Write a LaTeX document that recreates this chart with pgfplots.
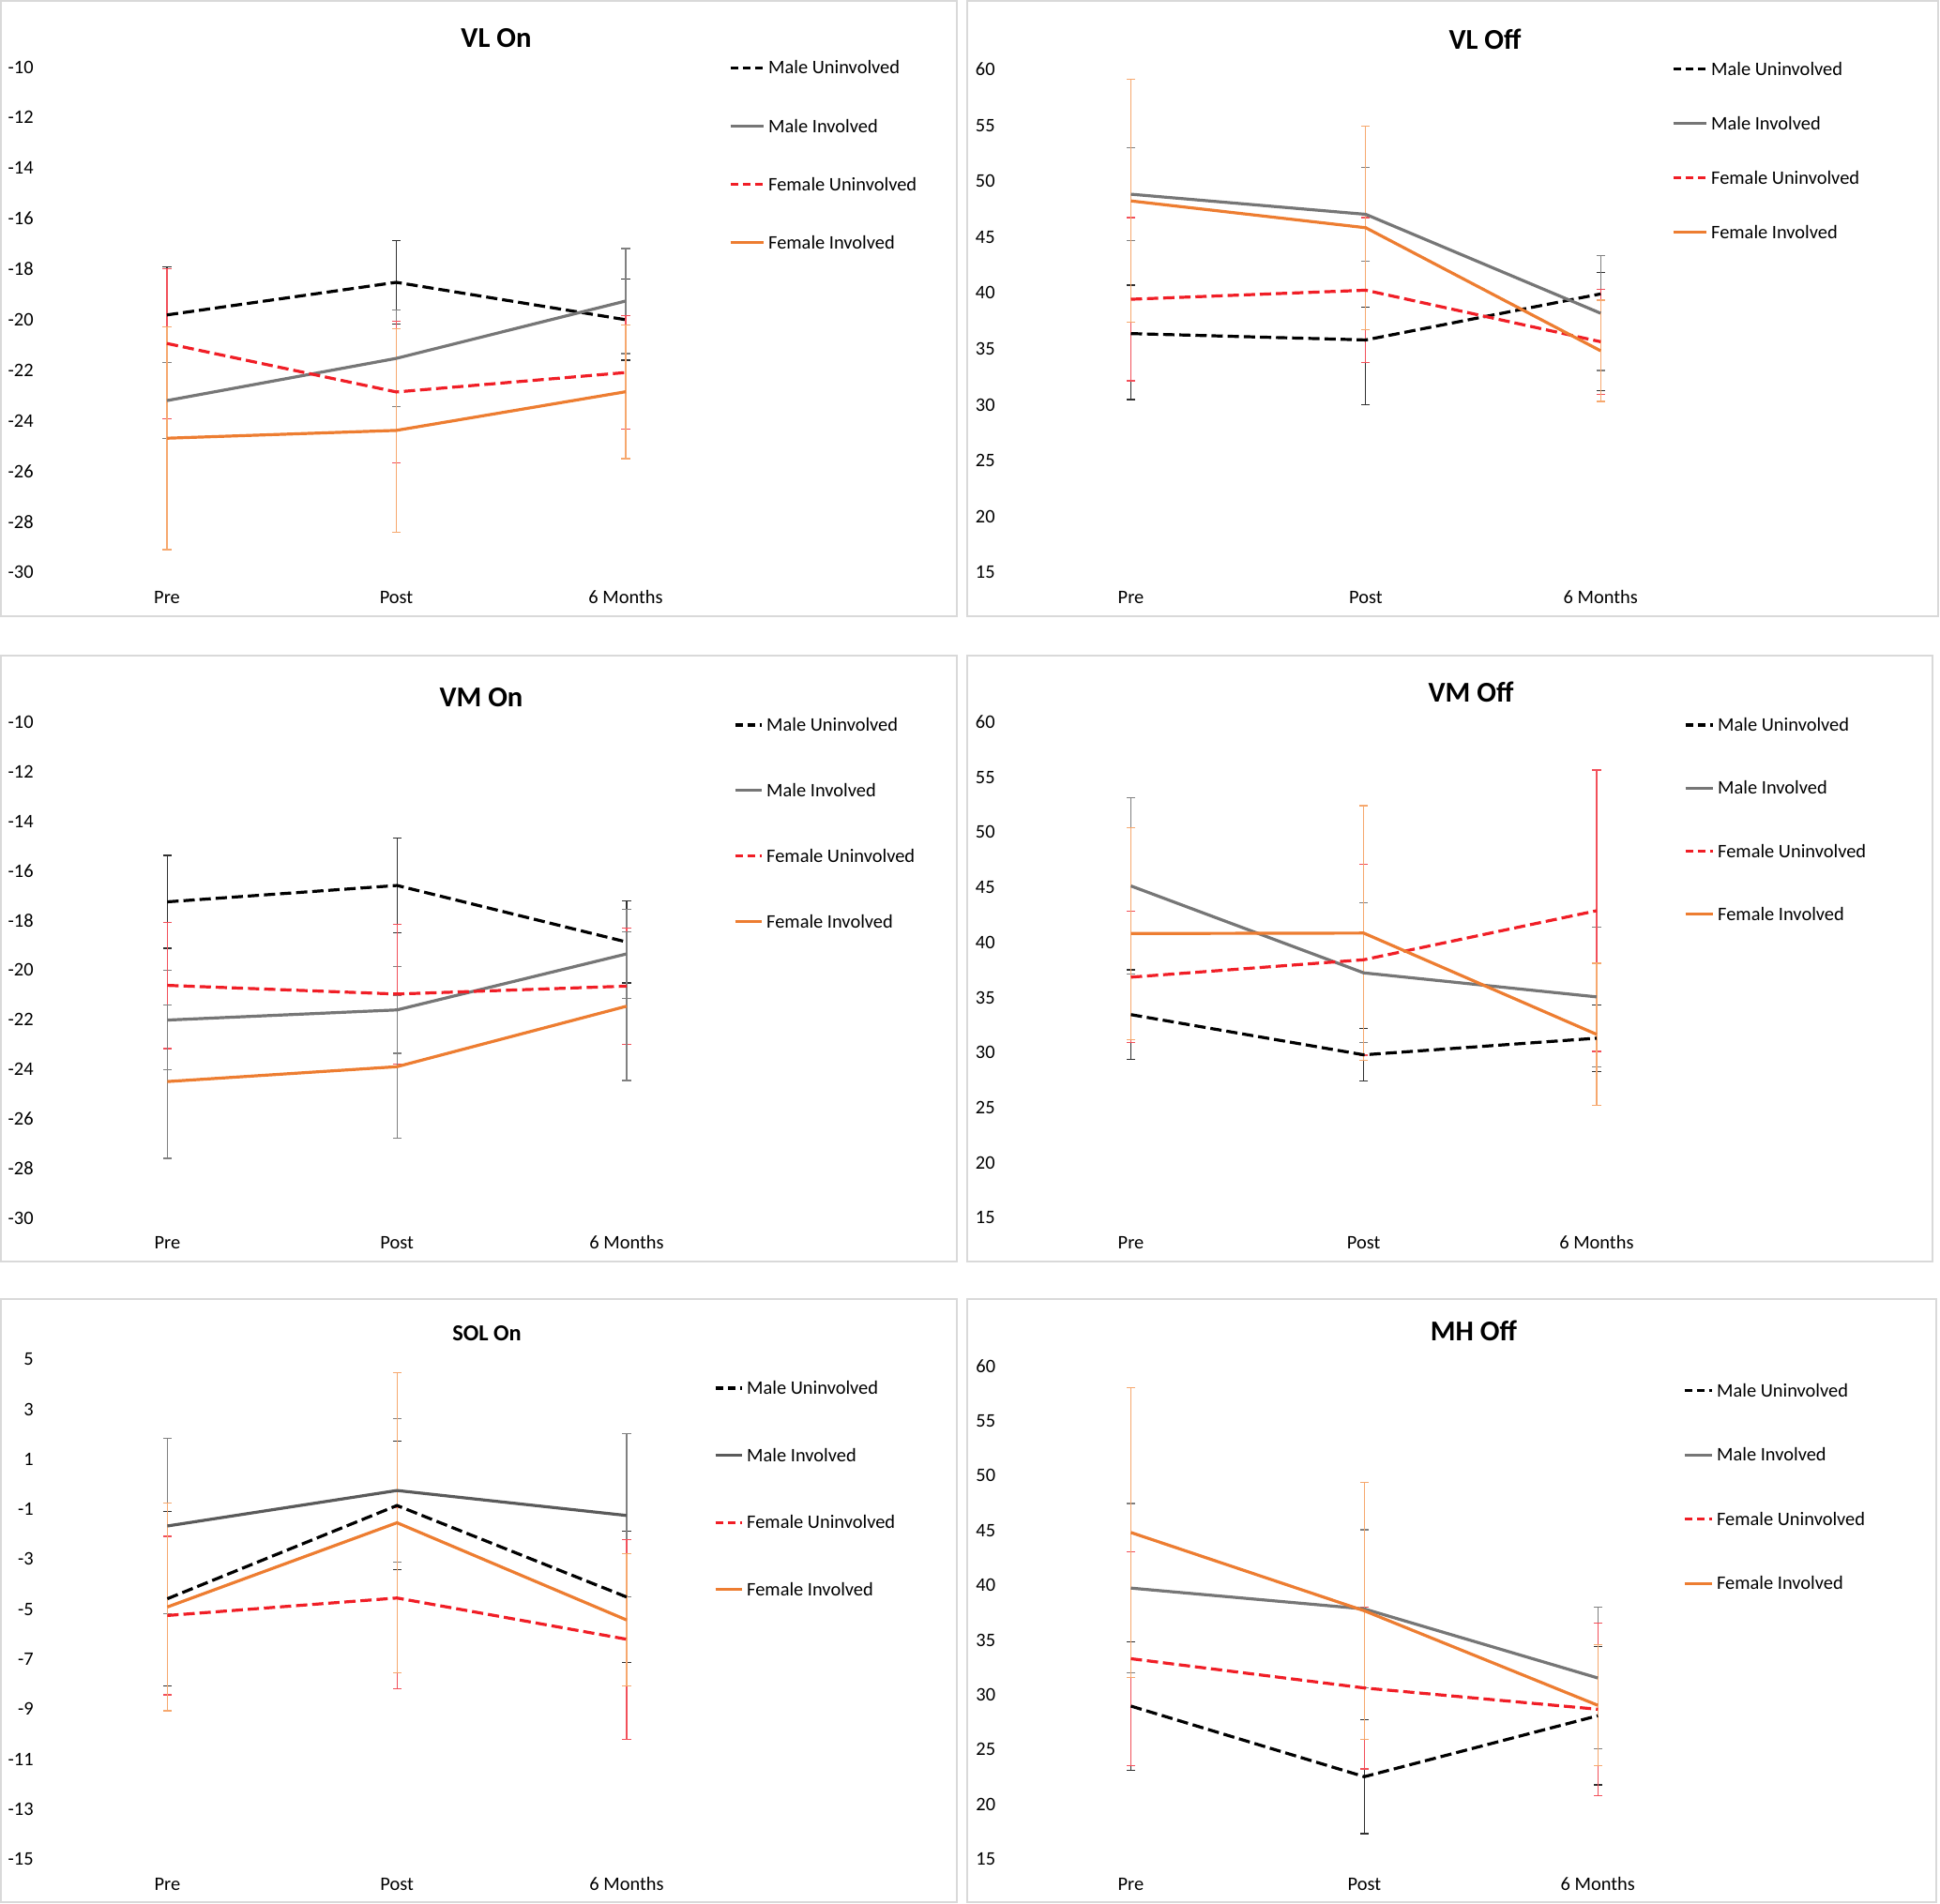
\documentclass[border=0pt]{standalone}
\usepackage{pgfplots}
\pgfplotsset{compat=1.18}
\usepackage{pgfplotstable}
\usepackage{fontspec}
\setmainfont{Carlito}

\definecolor{cgray}{HTML}{767676}
\definecolor{cgrayd}{HTML}{5A5A5A}
\definecolor{cred}{HTML}{F01E26}
\definecolor{corange}{HTML}{ED7D31}
\definecolor{eblack}{HTML}{303030}
\definecolor{egray}{HTML}{808080}
\definecolor{ered}{HTML}{F2505A}
\definecolor{eorange}{HTML}{F6A86E}
\definecolor{framegray}{HTML}{D9D9D9}

% columns: x, mean / plus / minus for Male Uninvolved (mu), Male Involved (mi),
% Female Uninvolved (fu), Female Involved (fi)
\pgfplotstableread{
x mu mup mum mi mip mim fu fup fum fi fip fim
0 -19.81 1.89 1.89 -23.20 1.50 1.50 -20.94 2.97 2.97 -24.69 4.41 4.41
1 -18.52 1.66 1.66 -21.53 1.92 1.92 -22.86 2.80 2.80 -24.38 4.02 4.02
2 -20.00 1.60 1.60 -19.26 2.08 2.08 -22.09 2.25 2.25 -22.85 2.65 2.65
}\tVLon
\pgfplotstableread{
x mu mup mum mi mip mim fu fup fum fi fip fim
0 36.37 4.33 5.91 48.84 4.15 4.15 39.44 7.30 7.30 48.24 10.86 10.86
1 35.80 2.90 5.80 47.04 4.20 4.20 40.25 6.50 6.50 45.84 9.10 9.10
2 39.92 1.90 8.67 38.19 5.13 5.13 35.64 4.70 4.70 34.83 4.53 4.53
}\tVLoff
\pgfplotstableread{
x mu mup mum mi mip mim fu fup fum fi fip fim
0 -17.25 1.87 1.87 -22.02 2.00 2.00 -20.62 2.55 2.55 -24.50 3.10 3.10
1 -16.59 1.91 1.91 -21.61 1.75 1.75 -20.97 2.82 2.82 -23.90 2.87 2.87
2 -18.87 1.65 1.65 -19.35 1.80 1.80 -20.65 2.34 2.34 -21.46 3.00 3.00
}\tVMon
\pgfplotstableread{
x mu mup mum mi mip mim fu fup fum fi fip fim
0 33.45 4.07 4.07 45.13 8.03 8.03 36.85 5.96 5.96 40.81 9.61 9.61
1 29.80 2.39 2.39 37.24 6.34 6.34 38.43 8.66 8.66 40.85 11.57 11.57
2 31.31 3.00 3.00 35.06 6.35 6.35 42.88 12.77 12.77 31.66 6.45 6.45
}\tVMoff
\pgfplotstableread{
x mu mup mum mi mip mim fu fup fum fi fip fim
0 -4.58 3.50 3.50 -1.67 3.50 3.50 -5.25 3.17 3.17 -4.91 4.15 4.15
1 -0.85 2.56 2.56 -0.25 2.86 2.86 -4.55 3.63 3.63 -1.54 6.00 6.00
2 -4.51 2.62 2.62 -1.25 3.26 3.26 -6.20 4.00 4.00 -5.43 2.65 2.65
}\tSOLon
\pgfplotstableread{
x mu mup mum mi mip mim fu fup fum fi fip fim
0 28.97 5.87 5.87 39.73 7.71 7.71 33.29 9.75 9.75 44.80 13.20 13.20
1 22.53 5.20 5.20 37.83 7.22 7.22 30.62 7.38 7.38 37.66 11.70 11.70
2 28.09 6.30 6.30 31.53 6.47 6.47 28.68 7.85 7.85 29.04 5.53 5.53
}\tMHoff

\pgfplotsset{
  leglen/.initial=17.5pt,
  panel/.style={
    scale only axis, clip=false, anchor=south west,
    xmin=-0.5, xmax=2.5, xtick={0,1,2}, xticklabels={Pre,Post,6 Months},
    axis line style={draw=none}, major tick length=0pt, tick style={draw=none},
    /pgf/number format/assume math mode=true,
    ticklabel style={font=\fontsize{10.2}{12}\selectfont, inner sep=0pt, text=black},
    xticklabel style={anchor=base, yshift=-16.5pt},
    yticklabel style={anchor=east},
    legend style={draw=none, fill=none, inner sep=0pt, outer sep=0pt, anchor=north west,
      font=\fontsize{10.2}{12}\selectfont,
      nodes={inner sep=0pt, text height=6.6pt, text depth=0pt},
      /tikz/every odd column/.append style={column sep=2pt}},
    legend cell align=left,
    legend image code/.code={\draw[##1] (0pt,0pt) -- (\pgfkeysvalueof{/pgfplots/leglen},0pt);},
  },
  ebar/.style={forget plot, draw=none, no markers,
    error bars/.cd, y dir=both, y explicit,
    error bar style={line width=0.6pt, draw=#1, solid},
    error mark options={rotate=90, mark size=2.3pt, line width=0.6pt, draw=#1, solid}},
  dashleg/.style={legend image code/.code={\draw[##1, dash pattern=on 4.2pt off 2.3pt] (0pt,0pt) -- (\pgfkeysvalueof{/pgfplots/leglen},0pt);}},
  sMU/.style={black, line width=1.6pt, dash pattern=on 6pt off 2.6pt, mark=none, dashleg},
  sMI/.style={color=#1, line width=1.6pt, mark=none},
  sFU/.style={color=cred, line width=1.6pt, dash pattern=on 6pt off 2.6pt, mark=none, dashleg},
  sFI/.style={color=corange, line width=1.6pt, mark=none},
}

% #1 table, #2 male-involved line colour, #3 female-involved error bar colour
\newcommand{\panelplots}[3]{%
  \addplot[ebar=eblack] table[x=x,y=mu,y error plus=mup,y error minus=mum]{#1};
  \addplot[ebar=egray] table[x=x,y=mi,y error plus=mip,y error minus=mim]{#1};
  \addplot[ebar=ered] table[x=x,y=fu,y error plus=fup,y error minus=fum]{#1};
  \addplot[ebar=#3] table[x=x,y=fi,y error plus=fip,y error minus=fim]{#1};
  \addplot[sMU] table[x=x,y=mu]{#1};
  \addlegendentry{Male Uninvolved}
  \addplot[sMI=#2] table[x=x,y=mi]{#1};
  \addlegendentry{Male Involved}
  \addplot[sFU] table[x=x,y=fu]{#1};
  \addlegendentry{Female Uninvolved}
  \addplot[sFI] table[x=x,y=fi]{#1};
  \addlegendentry{Female Involved}
}

\begin{document}
\begin{tikzpicture}
\useasboundingbox (0,0) rectangle (1034pt,1015pt);
% panel frames
\draw[framegray, line width=0.8pt] (0.5pt,686.5pt) rectangle (510pt,1014.5pt);
\draw[framegray, line width=0.8pt] (515.5pt,686.5pt) rectangle (1033pt,1014.5pt);
\draw[framegray, line width=0.8pt] (0.5pt,342.5pt) rectangle (510pt,665.5pt);
\draw[framegray, line width=0.8pt] (515.5pt,342.5pt) rectangle (1030pt,665.5pt);
\draw[framegray, line width=0.8pt] (0.5pt,1pt) rectangle (510pt,322.5pt);
\draw[framegray, line width=0.8pt] (515.5pt,1pt) rectangle (1032pt,322.5pt);

% VL On
\begin{axis}[panel, at={(27.875pt,709.85pt)}, width=366.75pt, height=269.4pt,
  ymin=-30, ymax=-10, ytick={-30,-28,...,-10},
  yticklabels={-30,-28,-26,-24,-22,-20,-18,-16,-14,-12,-10},
  yticklabel style={xshift=-9.875pt},
  legend style={at={(0.9833,1.0108)}, row sep=24.5pt}, leglen=17.5pt]
\panelplots{\tVLon}{cgray}{eorange}
\end{axis}

% VL Off
\begin{axis}[panel, at={(540.15pt,709.85pt)}, width=375.55pt, height=268.1pt,
  ymin=15, ymax=60, ytick={15,20,...,60},
  yticklabel style={xshift=-9.65pt},
  legend style={at={(0.9342,1.0128)}, row sep=22.4pt}, leglen=17.5pt]
\panelplots{\tVLoff}{cgray}{eorange}
\end{axis}

% VM On
\begin{axis}[panel, at={(28pt,365.75pt)}, width=367.2pt, height=264.3pt,
  ymin=-30, ymax=-10, ytick={-30,-28,...,-10},
  yticklabels={-30,-28,-26,-24,-22,-20,-18,-16,-14,-12,-10},
  yticklabel style={xshift=-10pt},
  legend style={at={(0.9886,1.0066)}, row sep=28.3pt}, leglen=14pt]
\panelplots{\tVMon}{cgray}{egray}
\end{axis}

% VM Off
\begin{axis}[panel, at={(540.7pt,365.75pt)}, width=372.3pt, height=264.3pt,
  ymin=15, ymax=60, ytick={15,20,...,60},
  yticklabel style={xshift=-10.2pt},
  legend style={at={(0.9584,1.0066)}, row sep=27pt}, leglen=14.5pt]
\panelplots{\tVMoff}{cgray}{eorange}
\end{axis}

% SOL On
\begin{axis}[panel, at={(28pt,23.85pt)}, width=367.2pt, height=266.55pt,
  ymin=-15, ymax=5, ytick={-15,-13,...,5},
  yticklabels={-15,-13,-11,-9,-7,-5,-3,-1,1,3,5},
  yticklabel style={xshift=-10pt},
  legend style={at={(0.96,0.9546)}, row sep=29.2pt}, leglen=14pt]
\panelplots{\tSOLon}{cgrayd}{eorange}
\end{axis}

% MH Off
\begin{axis}[panel, at={(540.5pt,23.85pt)}, width=373.35pt, height=263.05pt,
  ymin=15, ymax=60, ytick={15,20,...,60},
  yticklabel style={xshift=-9.75pt},
  legend style={at={(0.9548,0.9624)}, row sep=27.7pt}, leglen=14.5pt]
\panelplots{\tMHoff}{cgray}{eorange}
\end{axis}

% titles
\node[font=\bfseries\fontsize{15.3}{18}\selectfont] at (264.5pt,994.5pt) {VL On};
\node[font=\bfseries\fontsize{15.3}{18}\selectfont] at (791.5pt,994pt) {VL Off};
\node[font=\bfseries\fontsize{15.3}{18}\selectfont] at (256.5pt,643.25pt) {VM On};
\node[font=\bfseries\fontsize{15.3}{18}\selectfont] at (784pt,646pt) {VM Off};
\node[font=\bfseries\fontsize{12.2}{15}\selectfont] at (259.5pt,304pt) {SOL On};
\node[font=\bfseries\fontsize{15.3}{18}\selectfont] at (785.5pt,305.6pt) {MH Off};
\end{tikzpicture}
\end{document}
